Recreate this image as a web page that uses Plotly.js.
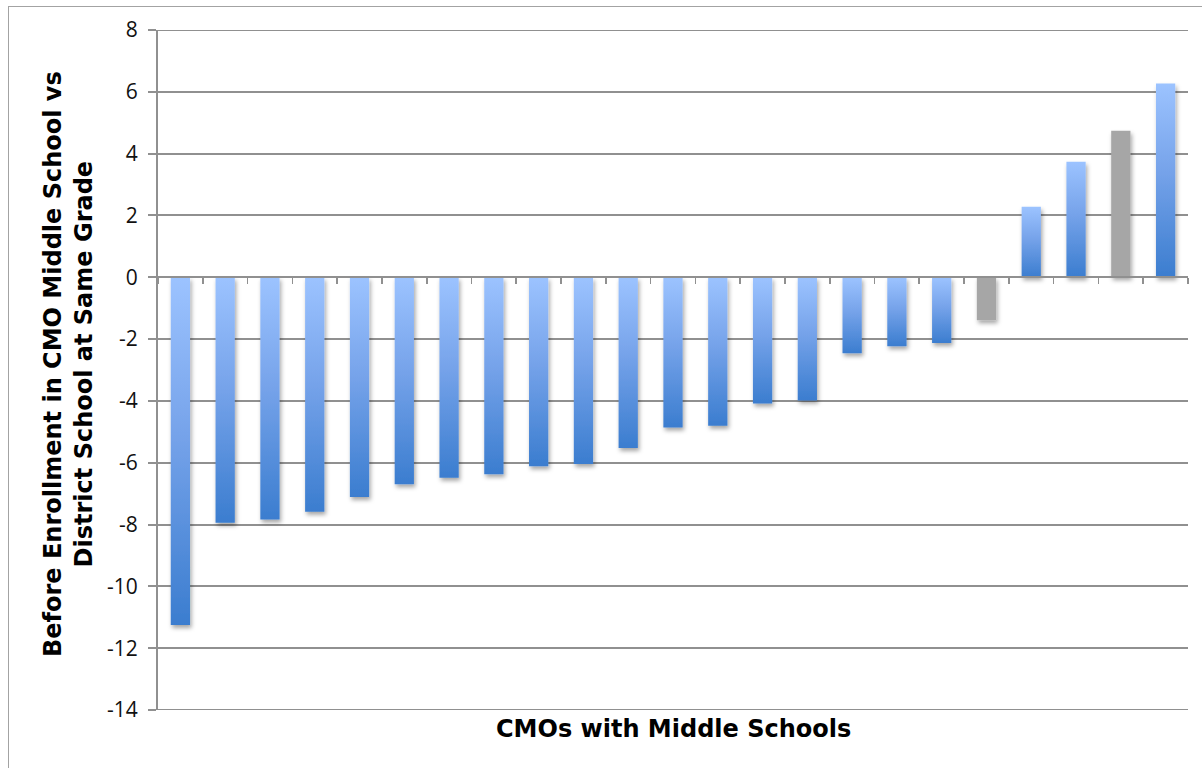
<!DOCTYPE html>
<html>
<head>
<meta charset="utf-8">
<script src="https://cdn.plot.ly/plotly-3.0.1.min.js"></script>
<style>
  html, body { margin: 0; padding: 0; background: #ffffff; overflow: hidden; }
  #chart { width: 1202px; height: 768px; position: relative; }
  #frame { position: absolute; left: 8px; top: 6px; width: 3000px; height: 3000px;
           border-left: 1.5px solid #a3a3a3; border-top: 1.5px solid #a3a3a3;
           pointer-events: none; }
</style>
</head>
<body>
<div id="chart"></div>
<div id="frame"></div>
<script>
// ---- data ----
const categories = ['CMO 1','CMO 2','CMO 3','CMO 4','CMO 5','CMO 6','CMO 7','CMO 8',
  'CMO 9','CMO 10','CMO 11','CMO 12','CMO 13','CMO 14','CMO 15','CMO 16','CMO 17',
  'CMO 18','CMO 19','CMO 20','CMO 21','CMO 22','CMO 23'];
const values = [-11.25, -7.94, -7.84, -7.59, -7.11, -6.70, -6.49, -6.37, -6.11, -6.04,
  -5.52, -4.86, -4.80, -4.08, -3.99, -2.46, -2.23, -2.13, -1.39, 2.28, 3.74, 4.74, 6.27];
// 'blue' = gradient bar, 'gray' = highlighted gray bar
const barGroups = ['blue','blue','blue','blue','blue','blue','blue','blue','blue','blue',
  'blue','blue','blue','blue','blue','blue','blue','blue','gray','blue','blue','gray','blue'];
const yTickValues = [-14, -12, -10, -8, -6, -4, -2, 0, 2, 4, 6, 8];
const yRange = [-14, 8];
const xTitle = 'CMOs with Middle Schools';
const yTitle = 'Before Enrollment in CMO Middle School vs<br>District School at Same Grade';

const colorMap = { blue: '#4a86d6', gray: '#a6a6a6' };
const gridColor = '#909090';
const lineW = 2;

const trace = {
  type: 'bar',
  x: categories,
  y: values,
  marker: { color: barGroups.map(g => colorMap[g]), line: { width: 0 } },
  width: 0.43,
  hoverinfo: 'y'
};

const zeroPos = (0 - yRange[0]) / (yRange[1] - yRange[0]);

// horizontal lines at the range ends (Plotly omits gridlines there)
const edgeLines = yRange.map(v => ({
  type: 'line', xref: 'paper', yref: 'y', x0: 0, x1: 1, y0: v, y1: v,
  line: { color: gridColor, width: lineW }, layer: 'below'
}));

const layout = {
  width: 1202,
  height: 768,
  margin: { l: 158, r: 14, t: 30, b: 58 },
  paper_bgcolor: 'rgba(0,0,0,0)',
  plot_bgcolor: 'rgba(0,0,0,0)',
  showlegend: false,
  bargap: 0.57,
  xaxis: {
    type: 'category',
    range: [-0.5, categories.length - 0.5],
    anchor: 'free',
    position: zeroPos,
    showline: true,
    linecolor: gridColor,
    linewidth: lineW,
    ticks: 'outside',
    tickson: 'boundaries',
    ticklen: 6,
    tickwidth: 1.6,
    tickcolor: gridColor,
    showticklabels: false,
    showgrid: false,
    zeroline: false,
    fixedrange: true
  },
  yaxis: {
    range: yRange,
    tickvals: yTickValues,
    ticktext: yTickValues.map(String),
    showgrid: true,
    gridcolor: gridColor,
    gridwidth: lineW,
    zeroline: false,
    showline: true,
    linecolor: gridColor,
    linewidth: lineW,
    ticks: 'outside',
    ticklen: 8,
    tickwidth: lineW,
    tickcolor: gridColor,
    ticklabelstandoff: 6,
    tickfont: { family: 'Open Sans, sans-serif', size: 21, color: '#111111' },
    fixedrange: true
  },
  shapes: edgeLines,
  annotations: [
    {
      text: xTitle, xref: 'paper', yref: 'paper', x: 0.5, y: 0,
      yshift: -19, xanchor: 'center', yanchor: 'middle', showarrow: false,
      font: { family: 'DejaVu Sans, sans-serif', size: 24, color: '#000000', weight: 'bold' }
    },
    {
      text: yTitle, xref: 'paper', yref: 'paper', x: 0, y: 0.5, xshift: -90,
      yshift: 6, xanchor: 'center', yanchor: 'middle', showarrow: false, textangle: -90,
      font: { family: 'DejaVu Sans, sans-serif', size: 24, color: '#000000', weight: 'bold' }
    }
  ]
};

Plotly.newPlot('chart', [trace], layout, { displayModeBar: false, staticPlot: true }).then(function (gd) {
  const svg = gd.querySelector('.main-svg');
  const NS = 'http://www.w3.org/2000/svg';
  const defs = document.createElementNS(NS, 'defs');
  defs.innerHTML =
    '<linearGradient id="barGrad" x1="0" y1="0" x2="0" y2="1">' +
      '<stop offset="0" stop-color="#9cc3ff"/>' +
      '<stop offset="0.45" stop-color="#76a3ea"/>' +
      '<stop offset="1" stop-color="#3b7dcf"/>' +
    '</linearGradient>' +
    '<filter id="barShadow" x="-30%" y="-10%" width="170%" height="130%">' +
      '<feDropShadow dx="1.5" dy="3" stdDeviation="2" flood-color="#000" flood-opacity="0.35"/>' +
    '</filter>';
  svg.insertBefore(defs, svg.firstChild);
  const paths = gd.querySelectorAll('.barlayer .point path');
  paths.forEach(function (p, i) {
    if (barGroups[i] === 'blue') p.style.fill = 'url(#barGrad)';
    p.setAttribute('filter', 'url(#barShadow)');
  });
});
</script>
</body>
</html>
